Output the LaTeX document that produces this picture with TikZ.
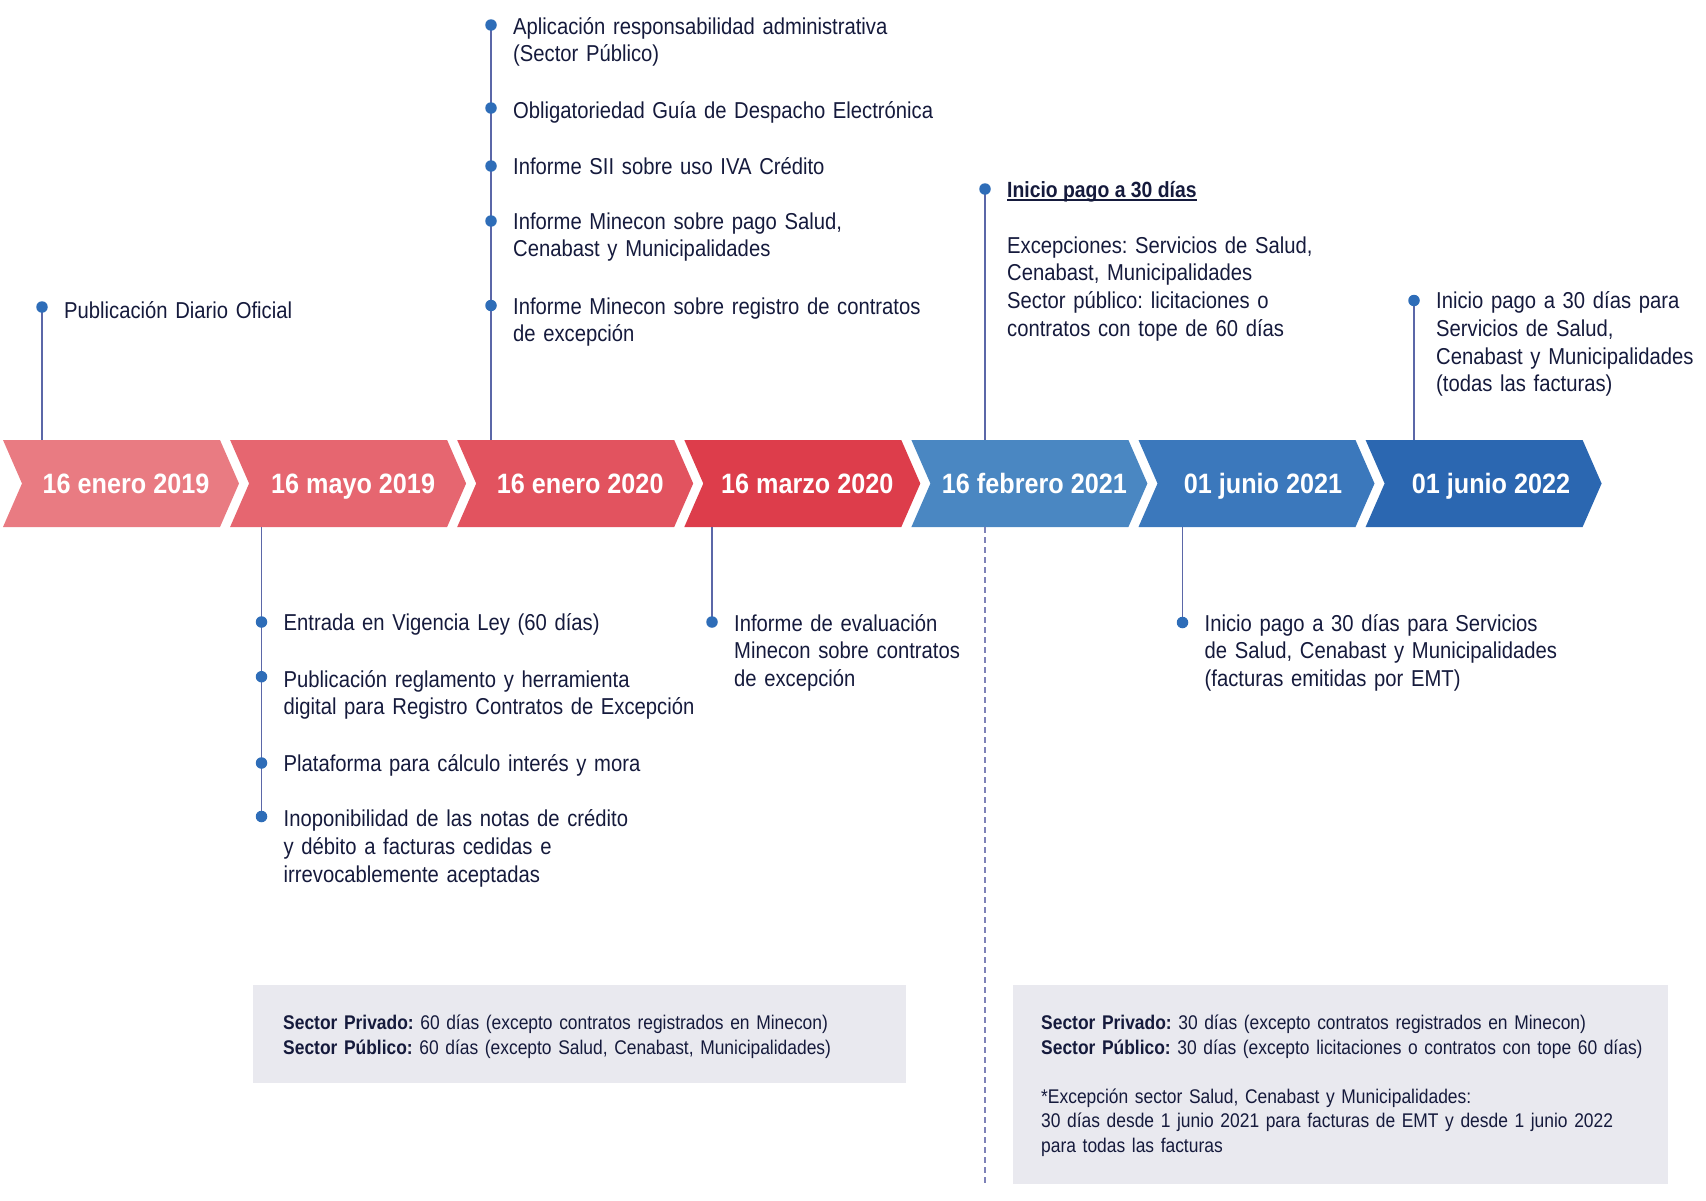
\documentclass[tikz,border=0pt]{standalone}
\usepackage{fontspec}
\setmainfont{Liberation Sans}[FakeStretch=0.88]
\newfontfamily\datefont{Liberation Sans}[FakeStretch=0.9]
\usetikzlibrary{backgrounds}
\definecolor{txt}{HTML}{151A3C}
\definecolor{dotblue}{HTML}{2E6DB8}
\definecolor{linecol}{HTML}{5B67A8}
\definecolor{dashcol}{HTML}{7E82B8}
\definecolor{boxgray}{HTML}{E9E9EF}
\definecolor{ch1}{HTML}{E97B82}
\definecolor{ch2}{HTML}{E66670}
\definecolor{ch3}{HTML}{E2535F}
\definecolor{ch4}{HTML}{DD3D4B}
\definecolor{ch5}{HTML}{4A87C2}
\definecolor{ch6}{HTML}{3B78BC}
\definecolor{ch7}{HTML}{2B67B1}
\newcommand\chevshape[2]{\fill[#2] (#1,440) -- ++(217,0) -- ++(19,43.5) -- ++(-19,43.5) -- ++(-217,0) -- ++(19,-43.5) -- cycle;}
\frenchspacing
\begin{document}
\frenchspacing
\begin{tikzpicture}[x=1pt,y=-1pt,
  dot/.style={circle, fill=dotblue, inner sep=0, minimum size=11.5},
  conn/.style={draw=linecol, line width=1.6},
  dashline/.style={draw=dashcol, line width=1.6, dash pattern=on 6 off 4},
  body/.style={anchor=base west, inner sep=0, align=left, text width=600, text=txt, font=\fontsize{23}{27.8}\selectfont},
  titletxt/.style={anchor=base west, inner sep=0, text=txt, font=\fontsize{22}{26}\selectfont\bfseries},
  date/.style={text=white, inner sep=0, minimum height=87, text height=20, text depth=0, font=\datefont\fontsize{28}{30}\selectfont\bfseries},
  gbox/.style={fill=boxgray, draw=none, anchor=north west, inner sep=0},
  boxtxt/.style={anchor=base west, inner sep=0, align=left, text width=700, text=txt, font=\fontsize{19.8}{24.5}\selectfont},
]
\useasboundingbox (0,0) rectangle (1706,1200);

% date labels
\node[date] (c1) at (126,483.5) {16 enero 2019};
\node[date] (c2) at (353.1,483.5) {16 mayo 2019};
\node[date] (c3) at (580.2,483.5) {16 enero 2020};
\node[date] (c4) at (807.3,483.5) {16 marzo 2020};
\node[date] (c5) at (1034.4,483.5) {16 febrero 2021};
\node[date] (c6) at (1263,483.5) {01 junio 2021};
\node[date] (c7) at (1491,483.5) {01 junio 2022};

% gray boxes
\node[gbox, minimum width=653, minimum height=98] (b1) at (252.4,984.6) {};
\node[gbox, minimum width=655, minimum height=199] (b2) at (1013,984.6) {};
\node[boxtxt] (bt1) at (283,1029.5) {\textbf{Sector Privado:} 60 días (excepto contratos registrados en Minecon)\\\textbf{Sector Público:} 60 días (excepto Salud, Cenabast, Municipalidades)};
\node[boxtxt] (bt2) at (1041,1029.5) {\textbf{Sector Privado:} 30 días (excepto contratos registrados en Minecon)\\\textbf{Sector Público:} 30 días (excepto licitaciones o contratos con tope 60 días)\\[24.5pt]*Excepción sector Salud, Cenabast y Municipalidades:\\30 días desde 1 junio 2021 para facturas de EMT y desde 1 junio 2022\\para todas las facturas};

% 16 enero 2019
\node[dot] (a1) at (42,307) {};
\node[body] (ta1) at (64,318) {Publicación Diario Oficial};

% 16 enero 2020 (top group)
\node[dot] (t1) at (491,25) {};
\node[dot] (t2) at (491,108) {};
\node[dot] (t3) at (491,166) {};
\node[dot] (t4) at (491,221) {};
\node[dot] (t5) at (491,305.5) {};
\node[body] (tt1) at (513,34) {Aplicación responsabilidad administrativa\\(Sector Público)};
\node[body] (tt2) at (513,118) {Obligatoriedad Guía de Despacho Electrónica};
\node[body] (tt3) at (513,174) {Informe SII sobre uso IVA Crédito};
\node[body] (tt4) at (513,229) {Informe Minecon sobre pago Salud,\\Cenabast y Municipalidades};
\node[body] (tt5) at (513,314) {Informe Minecon sobre registro de contratos\\de excepción};

% 16 febrero 2021
\node[dot] (f1) at (985,189) {};
\node[titletxt] (ft1) at (1007,197) {Inicio pago a 30 días};
\node[body] (ft2) at (1007,253) {Excepciones: Servicios de Salud,\\Cenabast, Municipalidades\\Sector público: licitaciones o\\contratos con tope de 60 días};

% 01 junio 2022
\node[dot] (r1) at (1414,300.5) {};
\node[body] (rt1) at (1436,308.5) {Inicio pago a 30 días para\\Servicios de Salud,\\Cenabast y Municipalidades\\(todas las facturas)};

% 16 mayo 2019 (bottom group)
\node[dot] (l1) at (261.5,622) {};
\node[dot] (l2) at (261.5,676.7) {};
\node[dot] (l3) at (261.5,763) {};
\node[dot] (l4) at (261.5,816.5) {};
\node[body] (lt1) at (283.5,630.5) {Entrada en Vigencia Ley (60 días)};
\node[body] (lt2) at (283.5,687) {Publicación reglamento y herramienta\\digital para Registro Contratos de Excepción};
\node[body] (lt3) at (283.5,771.5) {Plataforma para cálculo interés y mora};
\node[body] (lt4) at (283.5,826.5) {Inoponibilidad de las notas de crédito\\y débito a facturas cedidas e\\irrevocablemente aceptadas};

% 16 marzo 2020
\node[dot] (m1) at (712,622) {};
\node[body] (mt1) at (734,631) {Informe de evaluación\\Minecon sobre contratos\\de excepción};

% 01 junio 2021
\node[dot] (s1) at (1182.5,622.5) {};
\node[body] (st1) at (1204.5,631) {Inicio pago a 30 días para Servicios\\de Salud, Cenabast y Municipalidades\\(facturas emitidas por EMT)};

\begin{pgfonlayer}{background}
  \chevshape{3}{ch1}
  \chevshape{230.1}{ch2}
  \chevshape{457.2}{ch3}
  \chevshape{684.3}{ch4}
  \chevshape{911.4}{ch5}
  \chevshape{1138.5}{ch6}
  \chevshape{1365.6}{ch7}
  \draw[conn] (a1.center) -- (a1.center |- c1.north);
  \draw[conn] (t1.center) -- (t1.center |- c3.north);
  \draw[conn] (f1.center) -- (f1.center |- c5.north);
  \draw[dashline] (f1.center |- c5.south) -- (f1.center |- b2.south);
  \draw[conn] (r1.center) -- (r1.center |- c7.north);
  \draw[conn] (l4.center) -- (l4.center |- c2.south);
  \draw[conn] (m1.center) -- (m1.center |- c4.south);
  \draw[conn] (s1.center) -- (s1.center |- c6.south);
\end{pgfonlayer}
\draw[txt, line width=1.6] ([yshift=-2.8]ft1.base west) -- ([yshift=-2.8]ft1.base east);
\end{tikzpicture}
\end{document}
